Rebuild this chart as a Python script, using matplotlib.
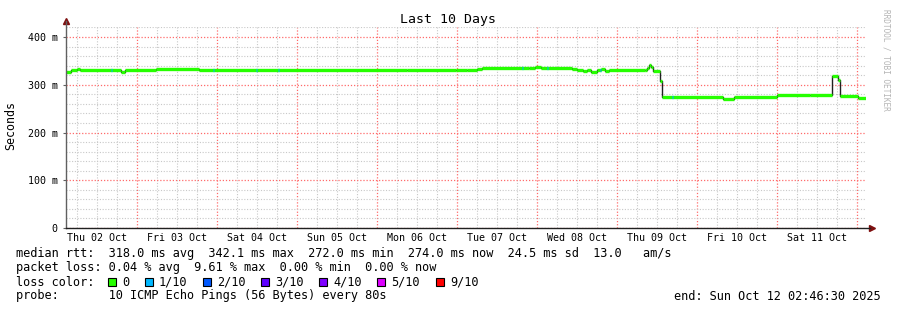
import datetime as dt
import numpy as np
import matplotlib
matplotlib.use('Agg')
import matplotlib.pyplot as plt
import matplotlib.dates as mdates
from matplotlib.patches import Rectangle

# median rtt (ms) as steps: hours since start -> value
start = dt.datetime(2025, 10, 2, 2, 46, 30)
end = dt.datetime(2025, 10, 12, 2, 46, 30)
step_hours = [0.0, 1.4, 3.2, 4.1, 16.4, 17.6, 26.9, 39.8, 102.2, 116.9, 120.2,
              123.2, 124.7, 138.8, 140.6, 142.4, 151.7, 153.2, 155.0, 156.2,
              157.4, 159.2, 160.4, 161.6, 162.8, 173.6, 174.2, 174.8, 175.4,
              176.0, 178.1, 178.7, 197.0, 200.3, 213.2, 223.1, 229.7, 231.5,
              232.1, 237.5, 240.0]
median_ms = [327, 330, 333, 331, 327, 331, 334, 331, 330, 331, 330,
             332, 335, 336, 337, 336, 334, 331, 328, 330,
             327, 330, 332, 328, 330, 331, 336, 342, 338,
             329, 308, 274, 271, 274, 278, 279, 318, 310,
             277, 272, 272]
# spots with 1/10 packet loss
loss1_hours = [13.4, 44.0, 56.9, 63.5, 136.7, 144.2, 160.1, 181.7]

day_labels = ['Thu 02 Oct', 'Fri 03 Oct', 'Sat 04 Oct', 'Sun 05 Oct', 'Mon 06 Oct',
              'Tue 07 Oct', 'Wed 08 Oct', 'Thu 09 Oct', 'Fri 10 Oct', 'Sat 11 Oct']
loss_names = ['0', '1/10', '2/10', '3/10', '4/10', '5/10', '9/10']
loss_colors = ['#26ff00', '#00b8ff', '#0059ff', '#5e00ff', '#7e00ff', '#dd00ff', '#ff0000']

mono = 'DejaVu Sans Mono'
W, H = 897, 310
fig = plt.figure(figsize=(W / 100, H / 100), dpi=100)
ax = fig.add_axes([66 / W, 1 - 228 / H, 800 / W, 201 / H])

times = [start + dt.timedelta(hours=h) for h in step_hours]
tnum = mdates.date2num(times)
vals = np.array(median_ms, dtype=float)

# black connector line, then green horizontal segments
ax.step(tnum, vals, where='post', color='#202020', lw=1.0, zorder=3)
ax.hlines(vals[:-1], tnum[:-1], tnum[1:], colors=loss_colors[0], lw=2.4, zorder=4)
for h in loss1_hours:
    i = np.searchsorted(step_hours, h, side='right') - 1
    t0 = mdates.date2num(start + dt.timedelta(hours=h))
    ax.hlines(vals[i], t0, t0 + 0.3 / 24, colors=loss_colors[1], lw=2.4, zorder=5)

ax.set_xlim(mdates.date2num(start), mdates.date2num(end))
ax.set_ylim(0, 421)

ax.xaxis.set_major_locator(mdates.DayLocator())
ax.xaxis.set_minor_locator(mdates.HourLocator(byhour=[6, 12, 18]))
ax.set_yticks(range(0, 401, 100))
ax.set_yticks([v for v in range(0, 421, 20) if v % 100], minor=True)
ax.set_yticklabels(['0' if v == 0 else '%d m' % v for v in range(0, 401, 100)],
                   family=mono, fontsize=7.2)
ax.tick_params(axis='y', which='major', length=2, pad=4, color='#606060')
ax.tick_params(axis='y', which='minor', length=0)
ax.tick_params(axis='x', which='both', length=0, labelbottom=False)

ax.grid(which='minor', color='#c8c8c8', ls=(0, (1, 1.5)), lw=0.8)
ax.grid(which='major', color='#ff6a6a', ls=(0, (1, 1.5)), lw=0.9)
ax.set_axisbelow(True)

for i, lab in enumerate(day_labels):
    noon = dt.datetime(2025, 10, 2 + i, 12)
    ax.text(mdates.date2num(noon), -0.05, lab, transform=ax.get_xaxis_transform(),
            ha='center', va='center', family=mono, fontsize=7.2)

for s in ['top', 'right', 'left', 'bottom']:
    ax.spines[s].set_visible(False)
ax.plot([0, 0], [0, 1.03], transform=ax.transAxes, color='#606060', lw=1, clip_on=False, zorder=6)
ax.plot([0, 1.005], [0, 0], transform=ax.transAxes, color='#202020', lw=1, clip_on=False, zorder=6)
ax.plot([0], [1.03], marker='^', ms=4, color='#7f1010', transform=ax.transAxes, clip_on=False)
ax.plot([1.007], [0], marker='>', ms=4, color='#7f1010', transform=ax.transAxes, clip_on=False)

fig.text(448 / W, 1 - 19 / H, 'Last 10 Days', ha='center', va='center', family=mono, fontsize=9.5)
fig.text(11 / W, 1 - 126 / H, 'Seconds', ha='center', va='center', rotation=90,
         family=mono, fontsize=8.4)
fig.text(886 / W, 1 - 60 / H, 'RRDTOOL / TOBI OETIKER', ha='center', va='center',
         rotation=270, family=mono, fontsize=5.6, color='#b4b4b4')

fs = 8.55
x0 = 16 / W
fig.text(x0, 1 - 254 / H, 'median rtt:  318.0 ms avg  342.1 ms max  272.0 ms min  '
         '274.0 ms now  24.5 ms sd  13.0   am/s', va='center', family=mono, fontsize=fs)
fig.text(x0, 1 - 268 / H, 'packet loss: 0.04 % avg  9.61 % max  0.00 % min  0.00 % now',
         va='center', family=mono, fontsize=fs)
fig.text(x0, 1 - 282 / H, 'loss color:', va='center', family=mono, fontsize=fs)
box_x = [108, 145, 203, 261, 319, 377, 436]
for bx, name, col in zip(box_x, loss_names, loss_colors):
    fig.patches.append(Rectangle((bx / W, 1 - 286 / H), 8 / W, 8 / H, transform=fig.transFigure,
                                 facecolor=col, edgecolor='black', lw=0.8))
    fig.text((bx + 14) / W, 1 - 282 / H, name, va='center', family=mono, fontsize=fs)
fig.text(x0, 1 - 296 / H, 'probe:       10 ICMP Echo Pings (56 Bytes) every 80s',
         va='center', family=mono, fontsize=fs)
fig.text(881 / W, 1 - 296 / H, 'end: Sun Oct 12 02:46:30 2025', ha='right', va='center',
         family=mono, fontsize=fs)

fig.savefig('out.png', dpi=100, facecolor='white')
